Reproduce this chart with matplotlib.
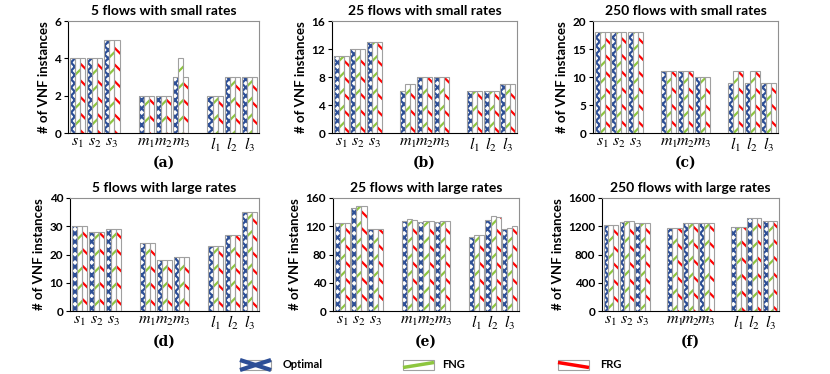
import matplotlib
matplotlib.use("Agg")
import matplotlib.pyplot as plt
from matplotlib.patches import Rectangle
from matplotlib.lines import Line2D
import numpy as np

plt.rcParams['font.family'] = ['Lato', 'DejaVu Sans']
plt.rcParams['mathtext.fontset'] = 'stix'
plt.rcParams['hatch.linewidth'] = 1.6

categories = ['$s_1$', '$s_2$', '$s_3$', '$m_1$', '$m_2$', '$m_3$', '$l_1$', '$l_2$', '$l_3$']
series_names = ['Optimal', 'FNG', 'FRG']

titles = ['5 flows with small rates', '25 flows with small rates', '250 flows with small rates',
          '5 flows with large rates', '25 flows with large rates', '250 flows with large rates']
sublabels = ['(a)', '(b)', '(c)', '(d)', '(e)', '(f)']

# values per panel: [Optimal, FNG, FRG]
a_opt = [4, 4, 5, 2, 2, 3, 2, 3, 3]
a_fng = [4, 4, 5, 2, 2, 4, 2, 3, 3]
a_frg = [4, 4, 5, 2, 2, 3, 2, 3, 3]

b_opt = [11, 12, 13, 6, 8, 8, 6, 6, 7]
b_fng = [11, 12, 13, 7, 8, 8, 6, 6, 7]
b_frg = [11, 12, 13, 7, 8, 8, 6, 6, 7]

c_opt = [18, 18, 18, 11, 11, 10, 9, 9, 9]
c_fng = [18, 18, 18, 11, 11, 10, 11, 11, 9]
c_frg = [18, 18, 18, 11, 11, 10, 11, 11, 9]

d_opt = [30, 28, 29, 24, 18, 19, 23, 27, 35]
d_fng = [30, 28, 29, 24, 18, 19, 23, 27, 35]
d_frg = [30, 28, 29, 24, 18, 19, 23, 27, 35]

e_opt = [124, 146, 116, 127, 126, 126, 105, 129, 116]
e_fng = [124, 148, 116, 130, 128, 127, 108, 134, 118]
e_frg = [124, 148, 116, 129, 128, 127, 108, 133, 120]

f_opt = [1220, 1265, 1250, 1180, 1240, 1240, 1190, 1310, 1280]
f_fng = [1220, 1270, 1250, 1180, 1245, 1245, 1195, 1315, 1280]
f_frg = [1220, 1270, 1250, 1180, 1245, 1245, 1195, 1310, 1280]

panels = [(a_opt, a_fng, a_frg), (b_opt, b_fng, b_frg), (c_opt, c_fng, c_frg),
          (d_opt, d_fng, d_frg), (e_opt, e_fng, e_frg), (f_opt, f_fng, f_frg)]
yticks = [[0, 2, 4, 6], [0, 4, 8, 12, 16], [0, 5, 10, 15, 20],
          [0, 10, 20, 30, 40], [0, 40, 80, 120, 160], [0, 400, 800, 1200, 1600]]

W, H = 830, 374
# axes boxes in pixels: left, right, top, bottom
boxes = [(68, 259, 21, 133), (332, 517, 21, 133), (593, 778, 21, 133),
         (70, 259, 198, 311), (333, 519, 198, 311), (602, 779, 198, 311)]

BLUE = '#2C4E96'
GREEN = '#8DC63F'
RED = '#FF0000'
EDGE = '#A0A0A0'
hatch_cols = [BLUE, GREEN, RED]
hatches = ['xxxx', '//', '\\\\']

positions = np.array([0, 1, 2, 4, 5, 6, 8, 9, 10])
bw = 0.3
offsets = [-bw, 0, bw]

fig = plt.figure(figsize=(W / 100, H / 100), dpi=100)

for i, (vals, box) in enumerate(zip(panels, boxes)):
    l, r, t, b = box
    ax = fig.add_axes([l / W, 1 - b / H, (r - l) / W, (b - t) / H])
    for k in range(3):
        x = positions + offsets[k]
        ax.bar(x, vals[k], bw, color='white', edgecolor=hatch_cols[k], hatch=hatches[k],
               linewidth=0, zorder=2)
        ax.bar(x, vals[k], bw, fill=False, edgecolor=EDGE, linewidth=0.8, zorder=3)
    ax.set_xlim(-0.55, 10.55)
    ax.set_ylim(yticks[i][0], yticks[i][-1])
    ax.set_yticks(yticks[i])
    ax.set_yticklabels([str(v) for v in yticks[i]], fontsize=8.5, fontweight='bold')
    ax.set_xticks(positions)
    ax.set_xticklabels(categories, fontsize=11.5)
    ax.tick_params(axis='x', length=0, pad=2)
    ax.tick_params(axis='y', length=3, width=0.8, direction='out', pad=2)
    ax.spines['left'].set_color('black')
    ax.spines['bottom'].set_color('black')
    ax.spines['top'].set_color('#909090')
    ax.spines['right'].set_color('#909090')
    for s in ax.spines.values():
        s.set_linewidth(0.8)
    ax.set_title(titles[i], fontsize=10, fontweight='bold', pad=4)
    ax.set_ylabel('# of VNF instances', fontsize=9.5, fontweight='bold', labelpad=3)
    cx = (l + r) / 2 / W
    sy = (163 if i < 3 else 342)
    fig.text(cx, 1 - sy / H, sublabels[i], ha='center', va='center', fontsize=10,
             fontweight='bold', family='DejaVu Serif')

# legend
leg_items = [(240, 283, 'Optimal'), (403, 442, 'FNG'), (558, 600, 'FRG')]
ly = 365
ph = 10
pw = 31
for k, (px, tx, name) in enumerate(leg_items):
    x0 = px / W
    y0 = 1 - (ly + ph / 2) / H
    x1 = x0 + pw / W
    y1 = y0 + ph / H
    fig.patches.append(Rectangle((x0, y0), pw / W, ph / H, transform=fig.transFigure,
                                 facecolor='white', edgecolor=EDGE, linewidth=0.8))
    if k == 0:
        for ya, yb in [(y0, y1), (y1, y0)]:
            fig.lines.append(Line2D([x0, x1], [ya, yb], color=BLUE, lw=3,
                                    solid_capstyle='butt', transform=fig.transFigure))
    elif k == 1:
        fig.lines.append(Line2D([x0, x1], [y0 + 0.25 * ph / H, y0 + 0.75 * ph / H],
                                color=GREEN, lw=2.5, solid_capstyle='butt',
                                transform=fig.transFigure))
    else:
        fig.lines.append(Line2D([x0, x1], [y0 + 0.75 * ph / H, y0 + 0.25 * ph / H],
                                color=RED, lw=2.5, solid_capstyle='butt',
                                transform=fig.transFigure))
    fig.text(tx / W, 1 - ly / H, name, ha='left', va='center', fontsize=8, fontweight='bold')

fig.savefig('out.png', dpi=100)
